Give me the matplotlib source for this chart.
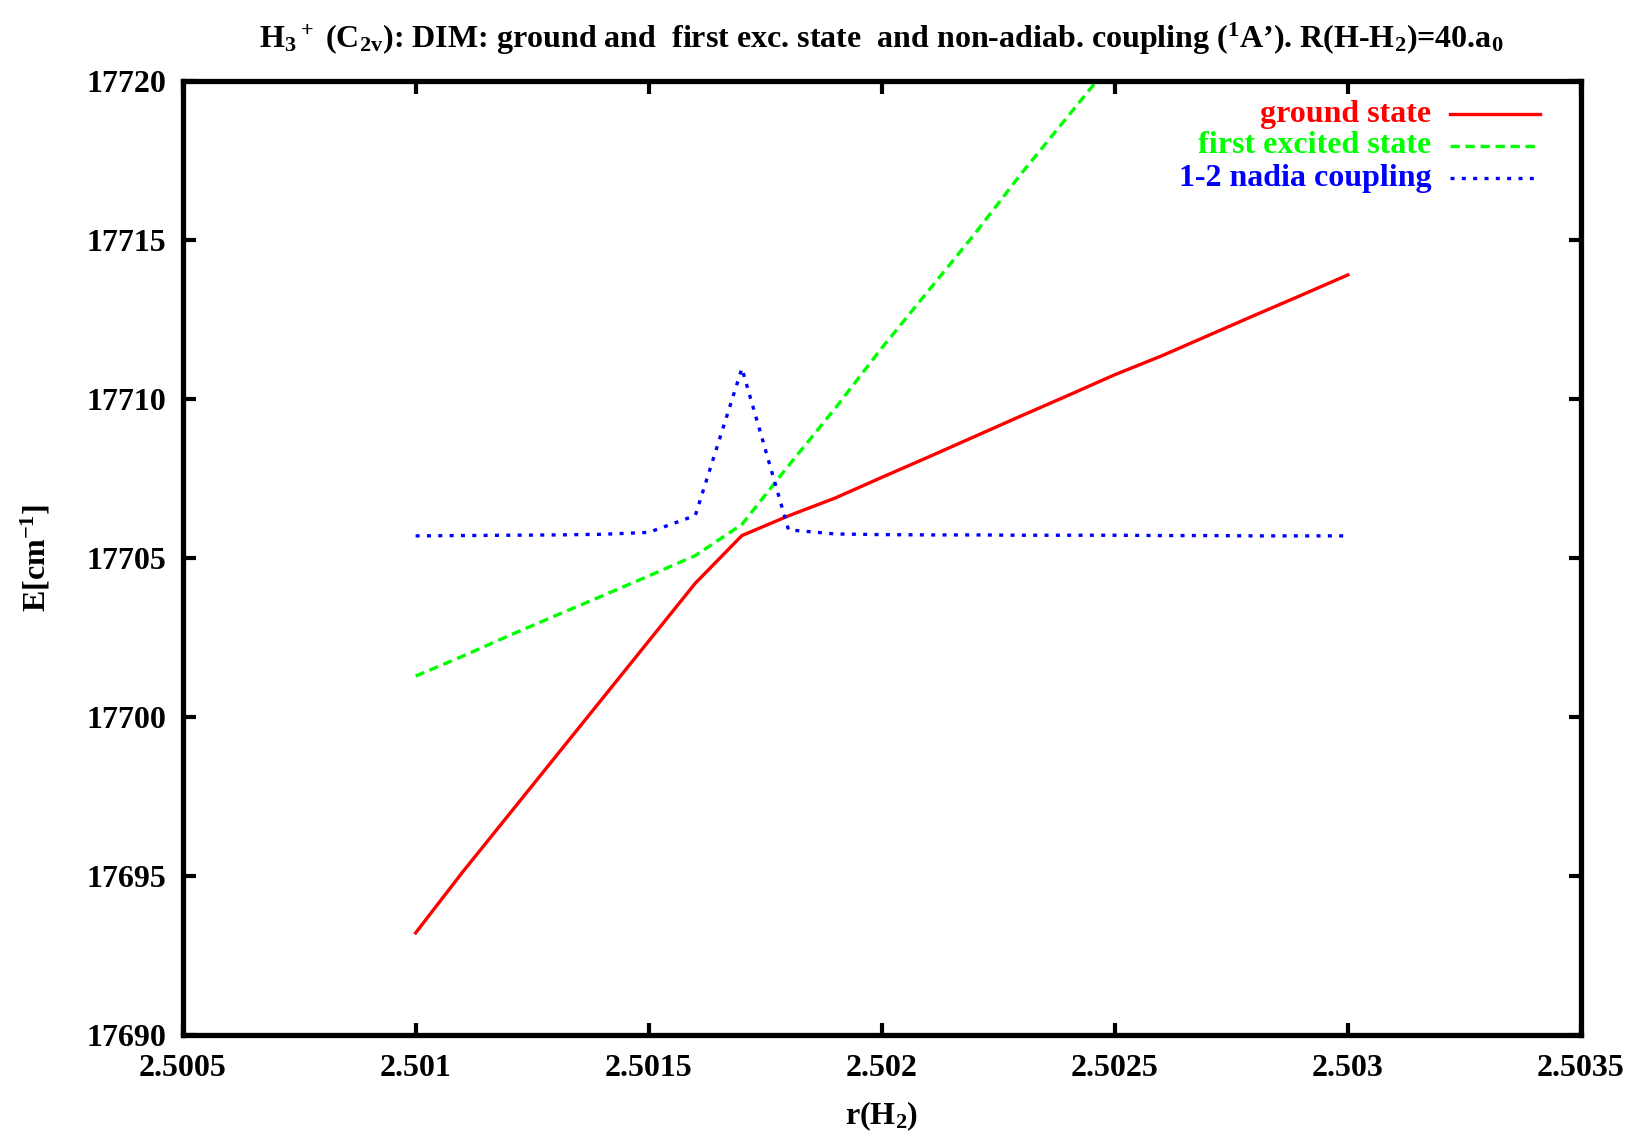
import matplotlib
matplotlib.use("Agg")
import matplotlib.pyplot as plt

# ---- data ----
r_ground = [2.5010, 2.5011, 2.5012, 2.5013, 2.5014, 2.5015, 2.5016, 2.5017, 2.5018, 2.5019,
            2.5020, 2.5021, 2.5022, 2.5023, 2.5024, 2.5025, 2.5026, 2.5027, 2.5028, 2.5029, 2.5030]
e_ground = [17693.2, 17695.1, 17696.92, 17698.74, 17700.56, 17702.38, 17704.2, 17705.7, 17706.32, 17706.88,
            17707.53, 17708.17, 17708.82, 17709.47, 17710.11, 17710.76, 17711.35, 17711.99, 17712.63, 17713.26, 17713.9]

r_excited = [2.5010, 2.5011, 2.5012, 2.5013, 2.5014, 2.5015, 2.5016, 2.5017, 2.5018, 2.5019,
             2.5020, 2.5021, 2.5022, 2.5023, 2.5024, 2.5025]
e_excited = [17701.28, 17701.9, 17702.55, 17703.18, 17703.8, 17704.43, 17705.07, 17706.05, 17707.9, 17709.7,
             17711.6, 17713.4, 17715.2, 17717.1, 17718.9, 17720.7]

r_coupling = [2.5010, 2.5011, 2.5012, 2.5013, 2.5014, 2.5015, 2.5016, 2.5017, 2.5018, 2.5019,
              2.5020, 2.5021, 2.5022, 2.5023, 2.5024, 2.5025, 2.5026, 2.5027, 2.5028, 2.5029, 2.5030]
e_coupling = [17705.69, 17705.70, 17705.71, 17705.72, 17705.74, 17705.80, 17706.33, 17710.96, 17705.88, 17705.75,
              17705.73, 17705.72, 17705.72, 17705.71, 17705.71, 17705.71, 17705.70, 17705.70, 17705.69, 17705.69, 17705.69]

labels = ["ground state", "first excited state", "1-2 nadia coupling"]
colors = ["#ff0000", "#00ff00", "#0000ff"]

x_ticks = [2.5005, 2.5010, 2.5015, 2.5020, 2.5025, 2.5030, 2.5035]
x_tick_labels = ["2.5005", "2.501", "2.5015", "2.502", "2.5025", "2.503", "2.5035"]
y_ticks = [17690, 17695, 17700, 17705, 17710, 17715, 17720]

# ---- style ----
plt.rcParams['font.family'] = ['Liberation Serif', 'DejaVu Serif']
plt.rcParams['font.weight'] = 'bold'
plt.rcParams['mathtext.fontset'] = 'custom'
plt.rcParams['mathtext.rm'] = 'Liberation Serif:bold'
plt.rcParams['mathtext.it'] = 'Liberation Serif:bold'
plt.rcParams['mathtext.bf'] = 'Liberation Serif:bold'
plt.rcParams['mathtext.default'] = 'rm'

FS = 23

fig = plt.figure(figsize=(16.27, 11.31), dpi=100)
ax = fig.add_axes([0.1122, 0.0852, 0.8595, 0.8432])

lw = 2.4
ax.plot(r_ground, e_ground, color=colors[0], lw=lw, linestyle='-')
ax.plot(r_excited, e_excited, color=colors[1], lw=lw, linestyle=(0, (2.8, 1.7)))
ax.plot(r_coupling, e_coupling, color=colors[2], lw=lw, linestyle=(0, (1.2, 2.2)))

ax.set_xlim(2.5005, 2.5035)
ax.set_ylim(17690, 17720)
ax.set_xticks(x_ticks)
ax.set_xticklabels(x_tick_labels)
ax.set_yticks(y_ticks)
ax.set_yticklabels([str(v) for v in y_ticks])

for s in ax.spines.values():
    s.set_linewidth(3.8)
ax.tick_params(direction='in', length=9, width=3, top=True, right=True,
               labelsize=FS)
ax.tick_params(axis='x', pad=14)
ax.tick_params(axis='y', pad=12)
for t in ax.get_xticklabels() + ax.get_yticklabels():
    t.set_fontweight('bold')

ax.set_xlabel(r"r(H$_2$)", fontsize=FS, fontweight='bold', labelpad=12)
ax.set_ylabel(r"E[cm$^{-1}$]", fontsize=FS, fontweight='bold', labelpad=24)
ax.set_title(r"H$_3$$^+$ (C$_{2v}$): DIM: ground and  first exc. state  and non-adiab. coupling ($^1$A’). R(H-H$_2$)=40.a$_0$",
             fontsize=FS, fontweight='bold', pad=24)

# legend (right-aligned text, sample line on the right)
styles = ['-', (0, (2.8, 1.7)), (0, (1.2, 2.2))]
ys = [0.965, 0.932, 0.898]
for lab, c, st, yy in zip(labels, colors, styles, ys):
    ax.text(0.893, yy, lab, transform=ax.transAxes, ha='right', va='center',
            color=c, fontsize=FS, fontweight='bold')
    ax.plot([0.906, 0.971], [yy, yy], transform=ax.transAxes, color=c, lw=lw,
            linestyle=st, clip_on=False)

fig.savefig("out.png", dpi=100)
